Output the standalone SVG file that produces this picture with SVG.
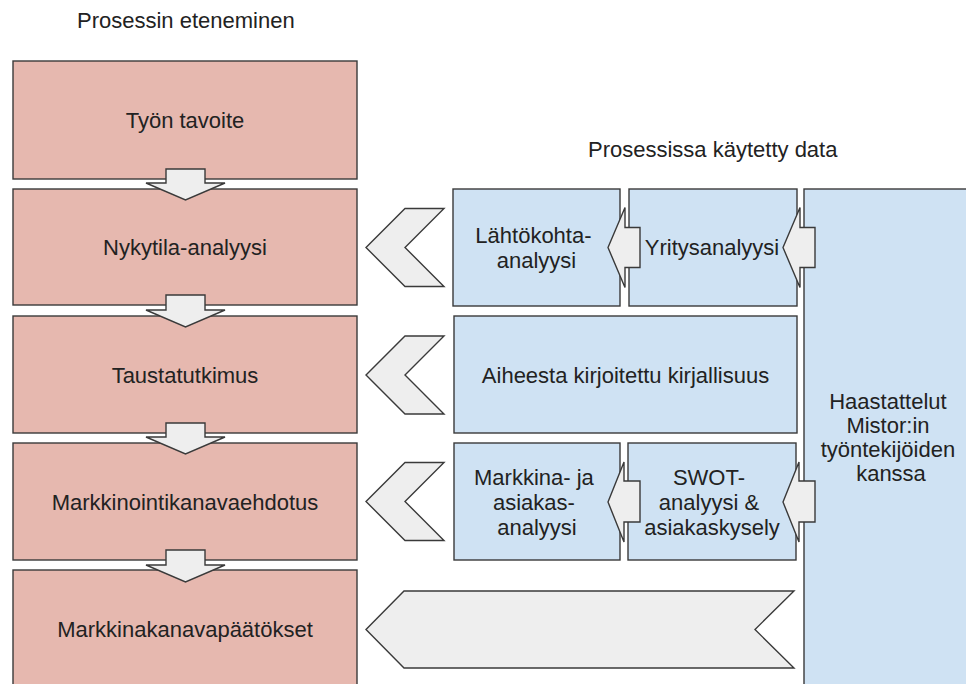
<svg xmlns="http://www.w3.org/2000/svg" width="966" height="684" viewBox="0 0 966 684">
  <style>
    .step { fill: #e6b8af; stroke: #3a3a3a; stroke-width: 1.4; }
    .data { fill: #cfe2f3; stroke: #3a3a3a; stroke-width: 1.4; }
    .arrow { fill: #eeeeee; stroke: #3a3a3a; stroke-width: 1.4; stroke-linejoin: miter; }
    text { font-family: "Liberation Sans", Arial, sans-serif; font-size: 22px; fill: #222222; }
    .c { text-anchor: middle; }
  </style>

  <rect width="966" height="684" fill="#ffffff"/>

  <!-- column headings -->
  <text x="77" y="28">Prosessin eteneminen</text>
  <text x="588" y="157">Prosessissa käytetty data</text>

  <!-- process steps (left column) -->
  <g id="step-tavoite">
    <rect class="step" x="13" y="61" width="344" height="118"/>
    <text class="c" x="185" y="128">Työn tavoite</text>
  </g>
  <g id="step-nykytila">
    <rect class="step" x="13" y="189" width="344" height="116"/>
    <text class="c" x="185" y="255">Nykytila-analyysi</text>
  </g>
  <g id="step-taustatutkimus">
    <rect class="step" x="13" y="316" width="344" height="117"/>
    <text class="c" x="185" y="383">Taustatutkimus</text>
  </g>
  <g id="step-ehdotus">
    <rect class="step" x="13" y="443" width="344" height="117"/>
    <text class="c" x="185" y="510">Markkinointikanavaehdotus</text>
  </g>
  <g id="step-paatokset">
    <rect class="step" x="13" y="570" width="344" height="124"/>
    <text class="c" x="185" y="637">Markkinakanavapäätökset</text>
  </g>

  <!-- data sources (right side) -->
  <g id="data-haastattelut">
    <rect class="data" x="804" y="189" width="190" height="510"/>
    <text class="c" x="891">
      <tspan x="891" y="409">Haastattelut</tspan>
      <tspan x="891" y="433">Mistor:in</tspan>
      <tspan x="891" y="457">työntekijöiden</tspan>
      <tspan x="891" y="481">kanssa</tspan>
    </text>
  </g>
  <g id="data-lahtokohta">
    <rect class="data" x="453" y="189" width="167" height="117"/>
    <text class="c" x="536.5">
      <tspan x="536.5" y="243">Lähtökohta-</tspan>
      <tspan x="536.5" y="268">analyysi</tspan>
    </text>
  </g>
  <g id="data-yritysanalyysi">
    <rect class="data" x="629" y="189" width="168" height="117"/>
    <text class="c" x="712" y="255">Yritysanalyysi</text>
  </g>
  <g id="data-kirjallisuus">
    <rect class="data" x="454" y="316" width="343" height="117"/>
    <text class="c" x="625.5" y="383">Aiheesta kirjoitettu kirjallisuus</text>
  </g>
  <g id="data-markkina">
    <rect class="data" x="454" y="443" width="166" height="117"/>
    <text class="c" x="537">
      <tspan x="537" y="485">Markkina- ja</tspan>
      <tspan x="537" y="510">asiakas-</tspan>
      <tspan x="537" y="535">analyysi</tspan>
    </text>
  </g>
  <g id="data-swot">
    <rect class="data" x="628" y="443" width="168" height="117"/>
    <text class="c" x="712">
      <tspan x="712" y="485">SWOT-</tspan>
      <tspan x="712" y="510">analyysi &amp;</tspan>
      <tspan x="712" y="535">asiakaskysely</tspan>
    </text>
  </g>

  <!-- connectors -->
  <g id="connectors">
    <!-- downward block arrows between process steps -->
    <path class="arrow" d="M166,169 H205 V183 H225 L185.5,200 L146,183 H166 Z"/>
    <path class="arrow" d="M166,295 H205 V310 H225 L185.5,327 L146,310 H166 Z"/>
    <path class="arrow" d="M166,423 H205 V437 H225 L185.5,454 L146,437 H166 Z"/>
    <path class="arrow" d="M166,550 H205 V565 H225 L185.5,582 L146,565 H166 Z"/>

    <!-- chevrons from data rows to process steps -->
    <path class="arrow" d="M366,247.5 L405,208.5 H444 L405,247.5 L444,286.5 H405 Z"/>
    <path class="arrow" d="M366,375 L405,336 H444 L405,375 L444,414 H405 Z"/>
    <path class="arrow" d="M366,501.5 L405,462.5 H444 L405,501.5 L444,540.5 H405 Z"/>

    <!-- banner from interviews to decisions -->
    <path class="arrow" d="M366,629.5 L404,591 H794 L755,629.5 L794,668 H404 Z"/>

    <!-- small left-pointing arrows between data boxes -->
    <path class="arrow" d="M608,247.5 L625,207.5 V227.5 H640 V267.5 H625 V287.5 Z"/>
    <path class="arrow" d="M783,247.5 L800,207.5 V227.5 H815 V267.5 H800 V287.5 Z"/>
    <path class="arrow" d="M608,502 L624,462 V481 H640 V522 H624 V542 Z"/>
    <path class="arrow" d="M783,502 L799,462 V481 H815 V522 H799 V542 Z"/>
  </g>
</svg>
